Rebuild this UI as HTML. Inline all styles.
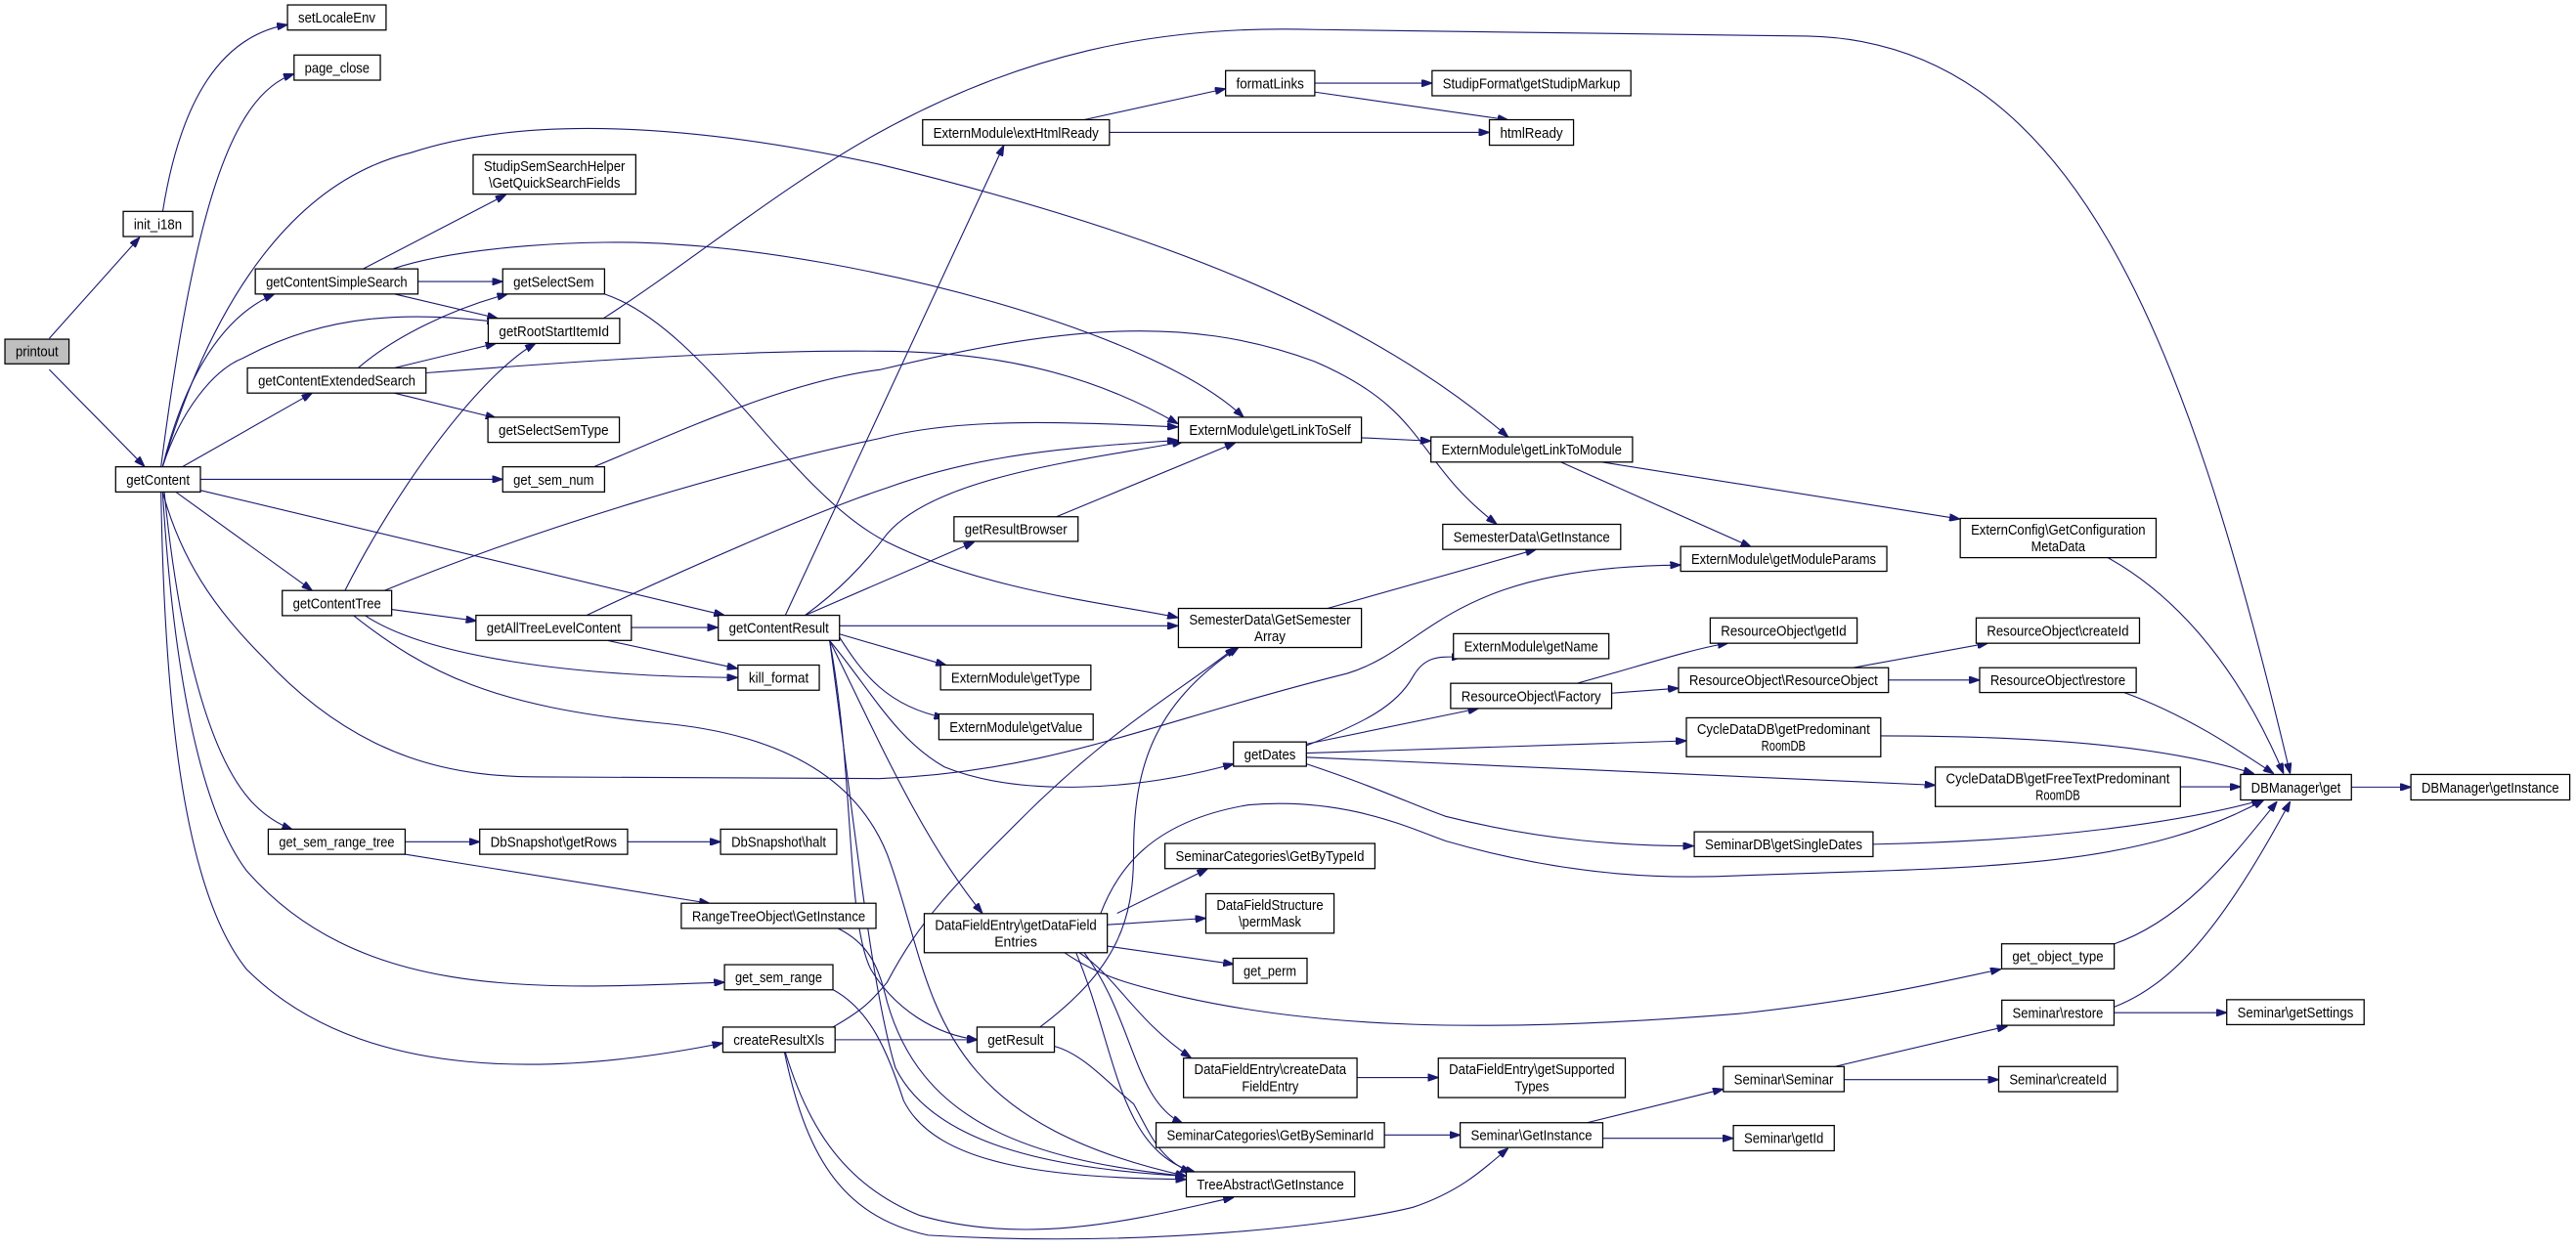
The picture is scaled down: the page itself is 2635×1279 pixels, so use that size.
<!DOCTYPE html>
<html><head><meta charset="utf-8"><style>
html,body{margin:0;padding:0;background:#fff;}
svg{display:block;}
text{font-family:"Liberation Sans",Arial,sans-serif;font-size:8.6px;fill:#000;text-anchor:middle;}
.n{fill:#fff;stroke:#000;stroke-width:0.75;}
.e{fill:none;stroke:#191970;stroke-width:0.65;marker-end:url(#a);}
</style></head><body>
<svg width="2635" height="1279" viewBox="0 0 1568 761" preserveAspectRatio="none" xmlns="http://www.w3.org/2000/svg">
<defs><marker id="a" viewBox="0 0 10 7" refX="10" refY="3.5" markerWidth="6.5" markerHeight="4.5" markerUnits="userSpaceOnUse" orient="auto"><path d="M0,0 L10,3.5 L0,7 z" fill="#191970" stroke="#191970"/></marker></defs>
<g>
<path class="e" d="M30,206 L85,144.5"/>
<path class="e" d="M30,225 L88,284"/>
<path class="e" d="M99,129 C110,60 135,22 175,15"/>
<path class="e" d="M98,284 C118,130 140,58 179,45"/>
<path class="e" d="M99,284 C130,180 180,110 250,93 C320,70 420,75 535,100 C700,140 830,190 918,266"/>
<path class="e" d="M367,194 C420,160 480,110 540,78 C620,35 700,15 800,18 L1100,22 C1260,25 1330,200 1394,471"/>
<path class="e" d="M221,163.7 L308,118.5"/>
<path class="e" d="M254.5,171.4 L306,171.4"/>
<path class="e" d="M240,179 L303,193.8"/>
<path class="e" d="M239,163.7 C280,150 360,145 410,148.7 C520,155 700,200 757,254"/>
<path class="e" d="M368,179 C430,200 480,300 540,330 C600,360 680,368 717,376"/>
<path class="e" d="M218,224 C240,205 275,188 309,179"/>
<path class="e" d="M240,224 L302,209"/>
<path class="e" d="M240,239.3 L302,254.5"/>
<path class="e" d="M259.6,227 C350,220 450,213 535,213.8 C600,214 660,225 717,258"/>
<path class="e" d="M99,284 C110,240 130,195 167,179"/>
<path class="e" d="M111,284.2 L190,239.3"/>
<path class="e" d="M99,284 C110,250 130,225 148,218 C200,190 250,190 303,196"/>
<path class="e" d="M122,291.8 L306,291.8"/>
<path class="e" d="M107,299.5 L190,359.5"/>
<path class="e" d="M122,298.5 L441,374.6"/>
<path class="e" d="M99,299.5 C110,340 130,370 160,400 C220,465 280,473 330,473 L535,474 C640,470 700,440 820,410 C870,395 880,345 1023,344"/>
<path class="e" d="M505,390 C530,420 545,450 575,467 C620,485 690,482 751,465"/>
<path class="e" d="M100,299.5 C108,380 125,460 155,490 C162,497 170,502 178,505"/>
<path class="e" d="M99,299.5 C105,400 120,490 150,530 C220,610 330,602 441,598"/>
<path class="e" d="M98,299.5 C100,420 110,540 150,590 C220,660 340,655 440,635"/>
<path class="e" d="M210,359.5 C240,300 290,230 326,209"/>
<path class="e" d="M234,359.5 C330,320 450,285 535,267 C580,255 640,256 717,260"/>
<path class="e" d="M238.4,371 L290,378"/>
<path class="e" d="M222,374.6 C260,400 350,412 449,412.5"/>
<path class="e" d="M215,374.6 C260,410 300,430 400,440 C470,446 520,470 540,520 C570,600 560,680 722,716"/>
<path class="e" d="M384,382 L437,382"/>
<path class="e" d="M370,390 L449,407"/>
<path class="e" d="M357,374.6 C420,345 500,310 540,297 C600,275 660,272 717,268"/>
<path class="e" d="M490,374.6 C510,360 525,345 540,325 C570,290 660,280 720,269"/>
<path class="e" d="M490,374.6 L593,330"/>
<path class="e" d="M478,374.6 L611,88.5"/>
<path class="e" d="M511,381 L717,381"/>
<path class="e" d="M511,386 L576,405"/>
<path class="e" d="M511,388 C525,410 540,430 575,437"/>
<path class="e" d="M505,390 C530,440 560,510 598,556"/>
<path class="e" d="M505,390 C520,470 515,560 530,590 C545,615 570,630 595,633"/>
<path class="e" d="M505,390 C520,500 530,600 545,650 C570,700 650,712 722,716"/>
<path class="e" d="M362,284 C420,260 480,232 536,225 C640,200 720,190 800,220 C870,250 860,280 911,319"/>
<path class="e" d="M643,314.6 L752,269.5"/>
<path class="e" d="M828.7,266.5 L871,268.5"/>
<path class="e" d="M950,281.3 L1066,333"/>
<path class="e" d="M975,281.3 L1193,316"/>
<path class="e" d="M1283,339.5 C1320,360 1360,400 1390,471"/>
<path class="e" d="M808,370.4 L935,334.5"/>
<path class="e" d="M660,72.9 L746,54"/>
<path class="e" d="M675.3,80.6 L906.6,80.6"/>
<path class="e" d="M800.3,50.6 L871.7,50.6"/>
<path class="e" d="M800,56 L918,73"/>
<path class="e" d="M795,454 C830,440 850,430 860,412 C868,398 878,400 890,400"/>
<path class="e" d="M795,453 L900,431.3"/>
<path class="e" d="M795,458.5 L1026.5,451"/>
<path class="e" d="M795,461 L1178,478"/>
<path class="e" d="M795,465 C840,480 860,490 880,497 C940,512 990,515 1031,515"/>
<path class="e" d="M960,416 C1000,405 1030,395 1052,391.5"/>
<path class="e" d="M981,422 L1021.7,419"/>
<path class="e" d="M1128,406.5 L1210,391.6"/>
<path class="e" d="M1149.5,414 L1205,414"/>
<path class="e" d="M1293,421.6 C1330,435 1360,455 1384,471"/>
<path class="e" d="M1144.8,448 C1250,448 1320,455 1372,471"/>
<path class="e" d="M1327,479 L1363.8,479"/>
<path class="e" d="M1140,514 C1250,512 1330,500 1377,487"/>
<path class="e" d="M670,556 C680,530 700,500 760,490 C820,485 860,505 880,512 C960,535 1020,535 1060,533 C1200,528 1300,530 1378,487"/>
<path class="e" d="M1431.3,479.2 L1467.5,479.2"/>
<path class="e" d="M680,556 L735,529"/>
<path class="e" d="M674,563 L734,559"/>
<path class="e" d="M674,576 L751,587"/>
<path class="e" d="M657,580 C680,595 690,620 725,644"/>
<path class="e" d="M660,580 C690,620 690,670 720,684"/>
<path class="e" d="M655,580 C680,640 680,700 728,714"/>
<path class="e" d="M648,580 C670,595 690,600 720,607 C800,625 900,630 1060,617 C1140,608 1180,598 1218,590"/>
<path class="e" d="M826,656 L875.5,656"/>
<path class="e" d="M842.7,691 L888.8,691"/>
<path class="e" d="M966,683.5 L1049,663"/>
<path class="e" d="M975.6,693 L1055,693"/>
<path class="e" d="M1117,649.3 L1222,624.7"/>
<path class="e" d="M1122.5,657.3 L1216.6,657.3"/>
<path class="e" d="M1287,613 C1320,600 1350,570 1394,488"/>
<path class="e" d="M1286.9,616.5 L1355.4,616.5"/>
<path class="e" d="M1286,575 C1330,560 1360,520 1386,488"/>
<path class="e" d="M642,637 C660,642 675,660 690,672 C700,690 705,705 725,714"/>
<path class="e" d="M633,625.3 C680,590 690,560 690,520 C690,470 700,430 754,394"/>
<path class="e" d="M507,625.3 C525,615 530,610 540,598 C560,560 580,540 620,500 C680,440 720,420 752,394"/>
<path class="e" d="M508,633 L595,633"/>
<path class="e" d="M478,640.6 C490,680 510,720 560,740 C630,760 700,740 751,729"/>
<path class="e" d="M507,602.5 C530,615 540,640 550,670 C570,710 640,717 722,718"/>
<path class="e" d="M510,565.2 C530,575 535,590 540,610 C560,680 620,706 722,716"/>
<path class="e" d="M477.5,640.6 C490,700 510,740 565,752 C700,760 820,745 860,735 C890,725 905,710 918,699"/>
<path class="e" d="M246.6,512.5 L292,512.5"/>
<path class="e" d="M381.9,512.5 L438.6,512.5"/>
<path class="e" d="M246,520 L432,550"/>
</g>
<g>
<rect x="3" y="206.5" width="39" height="15" style="fill:#bfbfbf;stroke:#000;stroke-width:0.75"/><text x="22.5" y="217" textLength="26" lengthAdjust="spacingAndGlyphs">printout</text>
<rect class="n" x="175" y="3" width="60" height="15.3"/><text x="205" y="13.8" textLength="47" lengthAdjust="spacingAndGlyphs">setLocaleEnv</text>
<rect class="n" x="179" y="33.5" width="52.5" height="15.3"/><text x="205.2" y="44.3" textLength="39.5" lengthAdjust="spacingAndGlyphs">page_close</text>
<rect class="n" x="75" y="128.7" width="42.3" height="15.3"/><text x="96.1" y="139.5" textLength="29.3" lengthAdjust="spacingAndGlyphs">init_i18n</text>
<rect class="n" x="288" y="94.2" width="99" height="24"/><text x="337.5" y="104" textLength="86" lengthAdjust="spacingAndGlyphs">StudipSemSearchHelper</text><text x="337.5" y="114.2" textLength="80" lengthAdjust="spacingAndGlyphs">\GetQuickSearchFields</text>
<rect class="n" x="155.4" y="163.7" width="99" height="15.3"/><text x="204.9" y="174.5" textLength="86" lengthAdjust="spacingAndGlyphs">getContentSimpleSearch</text>
<rect class="n" x="306" y="163.7" width="62" height="15.3"/><text x="337" y="174.5" textLength="49" lengthAdjust="spacingAndGlyphs">getSelectSem</text>
<rect class="n" x="297.2" y="193.8" width="80" height="15.3"/><text x="337.2" y="204.6" textLength="67" lengthAdjust="spacingAndGlyphs">getRootStartItemId</text>
<rect class="n" x="150.6" y="224" width="108.7" height="15.3"/><text x="205" y="234.8" textLength="95.7" lengthAdjust="spacingAndGlyphs">getContentExtendedSearch</text>
<rect class="n" x="297" y="254" width="80" height="15.3"/><text x="337" y="264.8" textLength="67" lengthAdjust="spacingAndGlyphs">getSelectSemType</text>
<rect class="n" x="70.4" y="284.2" width="51.6" height="15.3"/><text x="96.2" y="295" textLength="38.6" lengthAdjust="spacingAndGlyphs">getContent</text>
<rect class="n" x="306" y="284.2" width="62" height="15.3"/><text x="337" y="295" textLength="49" lengthAdjust="spacingAndGlyphs">get_sem_num</text>
<rect class="n" x="171.8" y="359.5" width="66.6" height="15.3"/><text x="205.1" y="370.3" textLength="53.6" lengthAdjust="spacingAndGlyphs">getContentTree</text>
<rect class="n" x="289.7" y="374.6" width="94.6" height="15.3"/><text x="337" y="385.4" textLength="81.6" lengthAdjust="spacingAndGlyphs">getAllTreeLevelContent</text>
<rect class="n" x="437.2" y="374.6" width="73.8" height="15.3"/><text x="474.1" y="385.4" textLength="60.8" lengthAdjust="spacingAndGlyphs">getContentResult</text>
<rect class="n" x="449.2" y="404.9" width="49.5" height="15.3"/><text x="474" y="415.7" textLength="36.5" lengthAdjust="spacingAndGlyphs">kill_format</text>
<rect class="n" x="163.3" y="504.8" width="83.3" height="15.3"/><text x="205" y="515.6" textLength="70.3" lengthAdjust="spacingAndGlyphs">get_sem_range_tree</text>
<rect class="n" x="292" y="504.8" width="90" height="15.3"/><text x="337" y="515.6" textLength="77" lengthAdjust="spacingAndGlyphs">DbSnapshot\getRows</text>
<rect class="n" x="438.6" y="504.8" width="70.7" height="15.3"/><text x="474" y="515.6" textLength="57.7" lengthAdjust="spacingAndGlyphs">DbSnapshot\halt</text>
<rect class="n" x="414.7" y="549.9" width="118.5" height="15.3"/><text x="474" y="560.7" textLength="105.5" lengthAdjust="spacingAndGlyphs">RangeTreeObject\GetInstance</text>
<rect class="n" x="441" y="587.3" width="66" height="15.3"/><text x="474" y="598.1" textLength="53" lengthAdjust="spacingAndGlyphs">get_sem_range</text>
<rect class="n" x="440" y="625.3" width="68.3" height="15.3"/><text x="474.1" y="636.1" textLength="55.3" lengthAdjust="spacingAndGlyphs">createResultXls</text>
<rect class="n" x="561.6" y="72.9" width="113.7" height="15.5"/><text x="618.4" y="83.8" textLength="100.7" lengthAdjust="spacingAndGlyphs">ExternModule\extHtmlReady</text>
<rect class="n" x="746" y="43" width="54.3" height="15.3"/><text x="773.1" y="53.8" textLength="41.3" lengthAdjust="spacingAndGlyphs">formatLinks</text>
<rect class="n" x="871.7" y="43" width="121" height="15.3"/><text x="932.2" y="53.8" textLength="108" lengthAdjust="spacingAndGlyphs">StudipFormat\getStudipMarkup</text>
<rect class="n" x="906.6" y="72.9" width="51.2" height="15.5"/><text x="932.2" y="83.8" textLength="38.2" lengthAdjust="spacingAndGlyphs">htmlReady</text>
<rect class="n" x="717.3" y="254" width="111.4" height="15.4"/><text x="773" y="264.8" textLength="98.4" lengthAdjust="spacingAndGlyphs">ExternModule\getLinkToSelf</text>
<rect class="n" x="871" y="266" width="122.7" height="15.3"/><text x="932.3" y="276.8" textLength="109.7" lengthAdjust="spacingAndGlyphs">ExternModule\getLinkToModule</text>
<rect class="n" x="580.7" y="314.6" width="75.5" height="15"/><text x="618.4" y="325.3" textLength="62.5" lengthAdjust="spacingAndGlyphs">getResultBrowser</text>
<rect class="n" x="878.2" y="319.2" width="108.3" height="15.3"/><text x="932.3" y="330" textLength="95.3" lengthAdjust="spacingAndGlyphs">SemesterData\GetInstance</text>
<rect class="n" x="1023" y="332.7" width="125.5" height="15.1"/><text x="1085.7" y="343.4" textLength="112.5" lengthAdjust="spacingAndGlyphs">ExternModule\getModuleParams</text>
<rect class="n" x="717.3" y="370.4" width="111.4" height="23.8"/><text x="773" y="380.2" textLength="98.4" lengthAdjust="spacingAndGlyphs">SemesterData\GetSemester</text><text x="773" y="390.4" textLength="19" lengthAdjust="spacingAndGlyphs">Array</text>
<rect class="n" x="572.5" y="404.9" width="91.5" height="15.1"/><text x="618.2" y="415.6" textLength="78.5" lengthAdjust="spacingAndGlyphs">ExternModule\getType</text>
<rect class="n" x="571.5" y="434.7" width="93.9" height="15.6"/><text x="618.4" y="445.7" textLength="80.9" lengthAdjust="spacingAndGlyphs">ExternModule\getValue</text>
<rect class="n" x="750.8" y="451.7" width="44.4" height="14.8"/><text x="773" y="462.2" textLength="31.4" lengthAdjust="spacingAndGlyphs">getDates</text>
<rect class="n" x="884.7" y="385.8" width="94.6" height="15.2"/><text x="932" y="396.5" textLength="81.6" lengthAdjust="spacingAndGlyphs">ExternModule\getName</text>
<rect class="n" x="883" y="416" width="98" height="15.3"/><text x="932" y="426.8" textLength="85" lengthAdjust="spacingAndGlyphs">ResourceObject\Factory</text>
<rect class="n" x="709.1" y="513.5" width="127.8" height="15.3"/><text x="773" y="524.3" textLength="114.8" lengthAdjust="spacingAndGlyphs">SeminarCategories\GetByTypeId</text>
<rect class="n" x="734" y="544.1" width="78" height="24"/><text x="773" y="553.9" textLength="65" lengthAdjust="spacingAndGlyphs">DataFieldStructure</text><text x="773" y="564.1" textLength="38" lengthAdjust="spacingAndGlyphs">\permMask</text>
<rect class="n" x="562.6" y="556.2" width="111.4" height="23.8"/><text x="618.3" y="566" textLength="98.4" lengthAdjust="spacingAndGlyphs">DataFieldEntry\getDataField</text><text x="618.3" y="576.2" textLength="26" lengthAdjust="spacingAndGlyphs">Entries</text>
<rect class="n" x="750.5" y="583.4" width="45.1" height="15.3"/><text x="773" y="594.2" textLength="32.1" lengthAdjust="spacingAndGlyphs">get_perm</text>
<rect class="n" x="594.7" y="625.3" width="47.1" height="15.3"/><text x="618.2" y="636.1" textLength="34.1" lengthAdjust="spacingAndGlyphs">getResult</text>
<rect class="n" x="720.4" y="644.2" width="105.6" height="24"/><text x="773.2" y="654" textLength="92.6" lengthAdjust="spacingAndGlyphs">DataFieldEntry\createData</text><text x="773.2" y="664.2" textLength="34.5" lengthAdjust="spacingAndGlyphs">FieldEntry</text>
<rect class="n" x="875.5" y="644.2" width="113.8" height="24"/><text x="932.4" y="654" textLength="100.8" lengthAdjust="spacingAndGlyphs">DataFieldEntry\getSupported</text><text x="932.4" y="664.2" textLength="21" lengthAdjust="spacingAndGlyphs">Types</text>
<rect class="n" x="703.7" y="683.5" width="139" height="15.1"/><text x="773.2" y="694.2" textLength="126" lengthAdjust="spacingAndGlyphs">SeminarCategories\GetBySeminarId</text>
<rect class="n" x="888.8" y="683.5" width="86.8" height="15.1"/><text x="932.2" y="694.2" textLength="73.8" lengthAdjust="spacingAndGlyphs">Seminar\GetInstance</text>
<rect class="n" x="722.1" y="713.4" width="102.5" height="15.2"/><text x="773.3" y="724.1" textLength="89.5" lengthAdjust="spacingAndGlyphs">TreeAbstract\GetInstance</text>
<rect class="n" x="1193.2" y="315.6" width="119.2" height="23.9"/><text x="1252.8" y="325.4" textLength="106.2" lengthAdjust="spacingAndGlyphs">ExternConfig\GetConfiguration</text><text x="1252.8" y="335.6" textLength="33" lengthAdjust="spacingAndGlyphs">MetaData</text>
<rect class="n" x="1041" y="376.2" width="89.4" height="15.4"/><text x="1085.7" y="387" textLength="76.4" lengthAdjust="spacingAndGlyphs">ResourceObject\getId</text>
<rect class="n" x="1202.9" y="376.2" width="99.4" height="15.4"/><text x="1252.6" y="387" textLength="86.4" lengthAdjust="spacingAndGlyphs">ResourceObject\createId</text>
<rect class="n" x="1021.7" y="406.5" width="127.8" height="15.1"/><text x="1085.6" y="417.2" textLength="114.8" lengthAdjust="spacingAndGlyphs">ResourceObject\ResourceObject</text>
<rect class="n" x="1205" y="406.5" width="95.3" height="15.1"/><text x="1252.6" y="417.2" textLength="82.3" lengthAdjust="spacingAndGlyphs">ResourceObject\restore</text>
<rect class="n" x="1026.5" y="437" width="118.3" height="23.7"/><text x="1085.6" y="446.8" textLength="105.3" lengthAdjust="spacingAndGlyphs">CycleDataDB\getPredominant</text><text x="1085.6" y="457" textLength="27" lengthAdjust="spacingAndGlyphs">RoomDB</text>
<rect class="n" x="1178" y="467" width="149.2" height="24"/><text x="1252.6" y="476.8" textLength="136.2" lengthAdjust="spacingAndGlyphs">CycleDataDB\getFreeTextPredominant</text><text x="1252.6" y="487" textLength="27" lengthAdjust="spacingAndGlyphs">RoomDB</text>
<rect class="n" x="1031.3" y="506.4" width="108.8" height="15.1"/><text x="1085.7" y="517.1" textLength="95.8" lengthAdjust="spacingAndGlyphs">SeminarDB\getSingleDates</text>
<rect class="n" x="1363.8" y="471.5" width="67.5" height="15.5"/><text x="1397.5" y="482.4" textLength="54.5" lengthAdjust="spacingAndGlyphs">DBManager\get</text>
<rect class="n" x="1467.5" y="471.5" width="96.7" height="15.5"/><text x="1515.8" y="482.4" textLength="83.7" lengthAdjust="spacingAndGlyphs">DBManager\getInstance</text>
<rect class="n" x="1218.4" y="574.6" width="68.5" height="15.2"/><text x="1252.6" y="585.3" textLength="55.5" lengthAdjust="spacingAndGlyphs">get_object_type</text>
<rect class="n" x="1218.5" y="608.9" width="68.3" height="15.3"/><text x="1252.6" y="619.7" textLength="55.3" lengthAdjust="spacingAndGlyphs">Seminar\restore</text>
<rect class="n" x="1355.4" y="608.6" width="83.6" height="15.2"/><text x="1397.2" y="619.3" textLength="70.6" lengthAdjust="spacingAndGlyphs">Seminar\getSettings</text>
<rect class="n" x="1049" y="649.3" width="73.5" height="15.3"/><text x="1085.7" y="660.1" textLength="60.5" lengthAdjust="spacingAndGlyphs">Seminar\Seminar</text>
<rect class="n" x="1216.6" y="649.3" width="72.3" height="15.3"/><text x="1252.7" y="660.1" textLength="59.3" lengthAdjust="spacingAndGlyphs">Seminar\createId</text>
<rect class="n" x="1055.1" y="685.2" width="61.4" height="15.4"/><text x="1085.8" y="696" textLength="48.4" lengthAdjust="spacingAndGlyphs">Seminar\getId</text>
</g>
</svg>
</body></html>
